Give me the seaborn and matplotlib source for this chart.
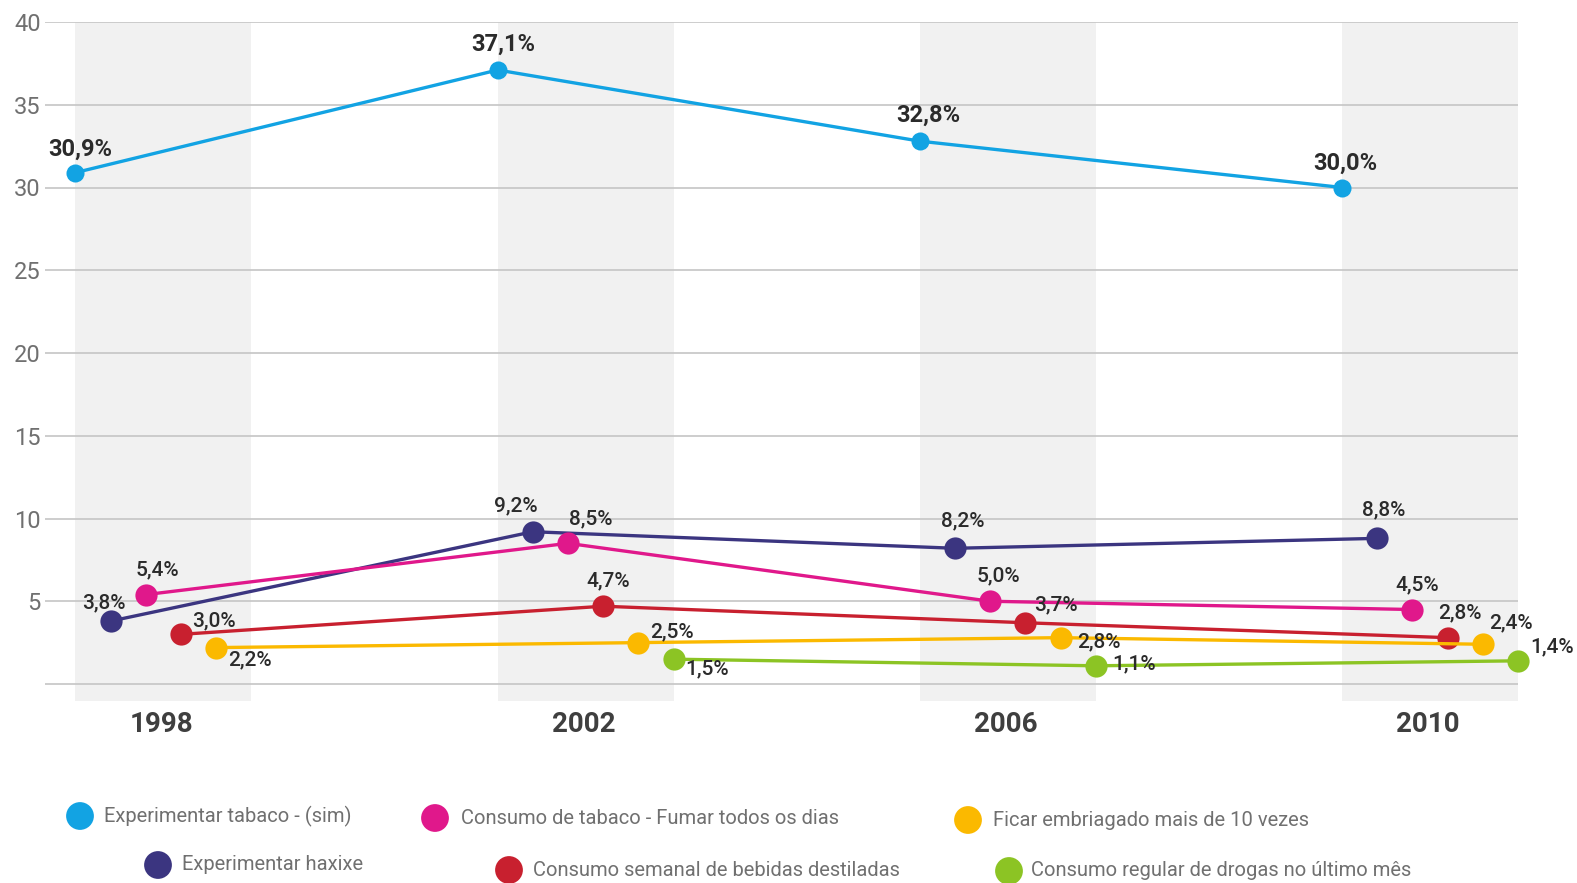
import matplotlib
matplotlib.use("Agg")
import matplotlib.pyplot as plt
import numpy as np
import pandas as pd
import seaborn as sns

# ---------------- data ----------------
years = ["1998", "2002", "2006", "2010"]
series_names = [
    "Experimentar tabaco - (sim)",
    "Experimentar haxixe",
    "Consumo de tabaco - Fumar todos os dias",
    "Consumo semanal de bebidas destiladas",
    "Ficar embriagado mais de 10 vezes",
    "Consumo regular de drogas no último mês",
]
exp_tabaco = [30.9, 37.1, 32.8, 30.0]
exp_haxixe = [3.8, 9.2, 8.2, 8.8]
consumo_tabaco = [5.4, 8.5, 5.0, 4.5]
bebidas_destiladas = [3.0, 4.7, 3.7, 2.8]
embriagado = [2.2, 2.5, 2.8, 2.4]
drogas = [np.nan, 1.5, 1.1, 1.4]
yticks = [0, 5, 10, 15, 20, 25, 30, 35, 40]

values = [exp_tabaco, exp_haxixe, consumo_tabaco, bebidas_destiladas, embriagado, drogas]
colors = ["#12a3e3", "#3b3580", "#e0188b", "#c8202f", "#fbb900", "#8cc424"]

# ---------------- fonts ----------------
sns.set_theme(style="white")
plt.rcParams["font.family"] = ["Roboto", "DejaVu Sans"]
plt.rcParams["font.stretch"] = "condensed"

# ---------------- figure ----------------
W, H = 1577, 883
AX_L, AX_R, AX_T, AX_B = 45, 1518, 22, 701
ZERO_PX = 684
PX_PER_UNIT = (ZERO_PX - AX_T) / 40.0
fig = plt.figure(figsize=(W / 100, H / 100), dpi=100)
ax = fig.add_axes([AX_L / W, 1 - AX_B / H, (AX_R - AX_L) / W, (AX_B - AX_T) / H])
ax.set_facecolor("white")

step = 1 / 12.0
band_w = 5 * step
first_px = 75.4
px_per_group = (AX_R - first_px) / (3 + band_w)

# gray bands
for g in range(len(years)):
    ax.axvspan(g, g + band_w, color="#f1f1f1", zorder=0, lw=0)

# gridlines
for yv in yticks:
    ax.axhline(yv, color="#c9c9c9", lw=1.3, zorder=1)

# data frame
rows = []
for k, (name, vals) in enumerate(zip(series_names, values)):
    for g, (yr, v) in enumerate(zip(years, vals)):
        if not np.isnan(v):
            rows.append({"series": name, "year": yr, "x": g + k * step, "value": v})
df = pd.DataFrame(rows)

msizes = [13, 16, 16, 16, 16, 16]
for k, name in enumerate(series_names):
    sub = df[df["series"] == name]
    sns.lineplot(data=sub, x="x", y="value", ax=ax, color=colors[k], lw=2.4,
                 marker="o", markersize=msizes[k], markeredgewidth=0,
                 zorder=3 + k, clip_on=False, legend=False)

# data labels (offsets in pixels: dx, dy)
offsets = [
    [(5, 23), (6, 26), (8, 26), (3, 24)],
    [(-7, 18), (-17, 26), (8, 27), (6, 28)],
    [(12, 25), (23, 24), (8, 25), (5, 25)],
    [(33, 13), (5, 25), (31, 18), (12, 25)],
    [(34, -12), (34, 11), (38, -4), (28, 21)],
    [None, (34, -10), (38, 2), (34, 14)],
]
for k, vals in enumerate(values):
    for g, v in enumerate(vals):
        if np.isnan(v):
            continue
        dx, dy = offsets[k][g]
        txt = f"{v:.1f}".replace(".", ",") + "%"
        if k == 0:
            ax.annotate(txt, (g + k * step, v), xytext=(dx, dy), textcoords="offset pixels",
                        ha="center", va="center", fontsize=17, fontweight="bold",
                        color="#2b2b2b", annotation_clip=False, zorder=20)
        else:
            ax.annotate(txt, (g + k * step, v), xytext=(dx, dy), textcoords="offset pixels",
                        ha="center", va="center", fontsize=15, fontweight="medium",
                        color="#2b2b2b", annotation_clip=False, zorder=20)

# axes formatting
ax.set_xlim(-(first_px - AX_L) / px_per_group, 3 + band_w)
ax.set_ylim(-(AX_B - ZERO_PX) / PX_PER_UNIT, 40)
ax.set_yticks(yticks)
ax.set_yticklabels([""] + [str(t) for t in yticks[1:]], fontsize=17, color="#707070")
ax.set_xticks([])
ax.tick_params(axis="y", length=0, pad=3)
ax.set_xlabel("")
ax.set_ylabel("")
for s in ax.spines.values():
    s.set_visible(False)
ax.grid(False)

# year labels
for g, yr in enumerate(years):
    ax.text(g + band_w / 2 - 0.005, -(725 - ZERO_PX) / PX_PER_UNIT, yr, ha="center", va="center",
            fontsize=20, fontweight="bold", color="#3f3f3f", clip_on=False)

# legend (staggered, custom)
lax = fig.add_axes([0, 0, 1, 1], zorder=-5)
lax.set_xlim(0, W)
lax.set_ylim(H, 0)
lax.axis("off")
lax.patch.set_alpha(0)
leg_pos = [
    (80, 816, 104),
    (158, 865, 182),
    (435, 818, 461),
    (509, 870, 533),
    (968, 820, 993),
    (1009, 871, 1031),
]
for k, name in enumerate(series_names):
    mx, my, tx = leg_pos[k]
    lax.scatter([mx], [my], s=400, color=colors[k], edgecolor="none", clip_on=False)
    lax.text(tx, my, name, ha="left", va="center", fontsize=14.5, color="#707070")

fig.savefig("out.png", dpi=100)
